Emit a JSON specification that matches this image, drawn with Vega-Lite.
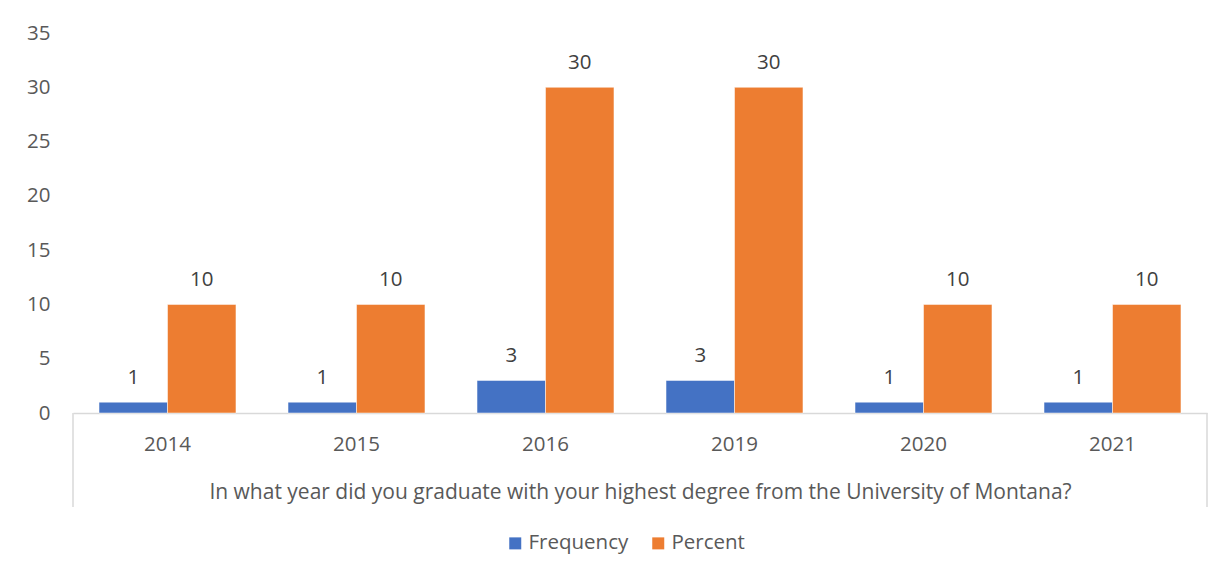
{
  "$schema": "https://vega.github.io/schema/vega-lite/v6.json",
  "width": 1134,
  "height": 380,
  "autosize": {"type": "none"},
  "padding": {"left": 73, "top": 33, "right": 21, "bottom": 164},
  "background": "white",
  "config": {
    "view": {"stroke": null},
    "font": "Open Sans",
    "axis": {"labelFont": "Open Sans", "titleFont": "Open Sans"},
    "legend": {"labelFont": "Open Sans"}
  },
  "data": {
    "values": [
      {"year": "2014", "series": "Frequency", "value": 1},
      {"year": "2014", "series": "Percent", "value": 10},
      {"year": "2015", "series": "Frequency", "value": 1},
      {"year": "2015", "series": "Percent", "value": 10},
      {"year": "2016", "series": "Frequency", "value": 3},
      {"year": "2016", "series": "Percent", "value": 30},
      {"year": "2019", "series": "Frequency", "value": 3},
      {"year": "2019", "series": "Percent", "value": 30},
      {"year": "2020", "series": "Frequency", "value": 1},
      {"year": "2020", "series": "Percent", "value": 10},
      {"year": "2021", "series": "Frequency", "value": 1},
      {"year": "2021", "series": "Percent", "value": 10}
    ]
  },
  "layer": [
    {
      "mark": {"type": "bar", "stroke": "white", "strokeWidth": 0.5},
      "encoding": {
        "x": {
          "field": "year",
          "type": "nominal",
          "scale": {"paddingInner": 0, "paddingOuter": 0},
          "axis": {
            "title": "In what year did you graduate with your highest degree from the University of Montana?",
            "titleFontSize": 21,
            "titleFontWeight": "normal",
            "titleColor": "#595959",
            "titleY": 79,
            "titleBaseline": "middle",
            "labelFontSize": 20.5,
            "labelColor": "#595959",
            "labelAngle": 0,
            "labelPadding": 21,
            "ticks": false,
            "tickSize": 0,
            "domainColor": "#d9d9d9",
            "domainWidth": 1.5,
            "grid": false
          }
        },
        "xOffset": {
          "field": "series",
          "type": "nominal",
          "scale": {"paddingInner": 0, "paddingOuter": 0.38}
        },
        "y": {
          "field": "value",
          "type": "quantitative",
          "scale": {"domain": [0, 35], "nice": false},
          "axis": {
            "title": null,
            "values": [0, 5, 10, 15, 20, 25, 30, 35],
            "grid": false,
            "domain": false,
            "ticks": false,
            "tickSize": 0,
            "labelPadding": 23,
            "labelFontSize": 20.5,
            "labelColor": "#595959"
          }
        },
        "color": {
          "field": "series",
          "type": "nominal",
          "scale": {"domain": ["Frequency", "Percent"], "range": ["#4472C4", "#ED7D31"]},
          "legend": {
            "title": null,
            "orient": "none",
            "direction": "horizontal",
            "legendX": 432,
            "legendY": 500,
            "symbolType": "square",
            "symbolSize": 144,
            "symbolStrokeWidth": 0,
            "labelFontSize": 20.5,
            "labelColor": "#595959",
            "labelOffset": 3,
            "columnPadding": 19
          }
        }
      }
    },
    {
      "mark": {"type": "text", "dy": -18, "baseline": "alphabetic", "fontSize": 20.5, "color": "#404040"},
      "encoding": {
        "x": {"field": "year", "type": "nominal"},
        "xOffset": {"field": "series", "type": "nominal"},
        "y": {"field": "value", "type": "quantitative"},
        "text": {"field": "value", "type": "quantitative"}
      }
    },
    {
      "transform": [{"filter": "datum.year == '2014' && datum.series == 'Frequency'"}],
      "mark": {"type": "rule", "color": "#d9d9d9", "strokeWidth": 1.5},
      "encoding": {
        "x": {"field": "year", "type": "nominal", "bandPosition": 0},
        "y": {"datum": 0},
        "y2": {"datum": -8.66}
      }
    },
    {
      "transform": [{"filter": "datum.year == '2021' && datum.series == 'Frequency'"}],
      "mark": {"type": "rule", "color": "#d9d9d9", "strokeWidth": 1.5},
      "encoding": {
        "x": {"field": "year", "type": "nominal", "bandPosition": 1},
        "y": {"datum": 0},
        "y2": {"datum": -8.66}
      }
    }
  ]
}
